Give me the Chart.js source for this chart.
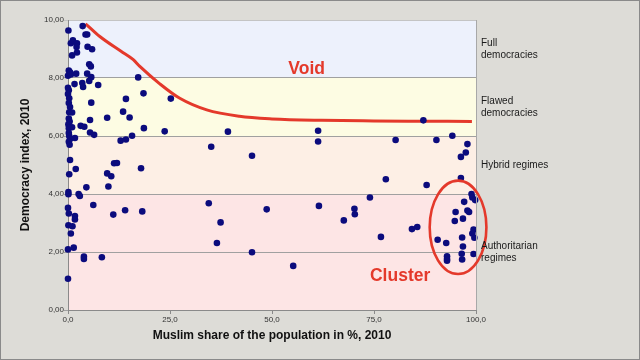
<!DOCTYPE html>
<html><head><meta charset="utf-8">
<script src="https://cdn.jsdelivr.net/npm/chart.js@4/dist/chart.umd.min.js"></script>
<style>html,body{margin:0;padding:0;background:#dddcd7;}#wrap{width:640px;height:360px;position:relative;}</style>
</head><body><div id="wrap"><canvas id="c" width="640" height="360"></canvas></div>
<script>
// ---- data ----
const muslimShare = [
  0.1,3.6,4.3,4.7,0.7,1.2,2.2,2.1,1.0,2.2,4.8,5.9,5.2,5.6,0.2,0.5,0.0,0.7,2.0,4.7,
  5.7,5.2,17.2,7.4,1.6,3.5,3.7,0.0,0.2,0.0,18.5,14.2,5.7,0.3,0.2,0.5,0.3,1.0,13.5,9.6,
  15.1,5.4,0.2,0.4,0.1,3.1,4.0,1.0,0.2,18.6,5.4,6.4,0.2,0.3,0.5,1.7,0.2,0.4,12.9,14.2,
  15.7,0.5,1.9,11.3,12.0,17.9,0.3,9.6,10.6,0.1,0.1,2.6,2.9,4.5,9.9,6.2,11.1,14.0,18.2,0.0,
  0.2,1.7,1.7,0.1,1.1,0.7,0.0,1.4,3.9,3.9,8.3,0.0,
  25.2,23.7,39.2,35.1,45.1,61.3,61.3,80.3,77.9,74.0,34.5,48.7,61.5,70.2,70.3,67.6,37.4,36.5,45.1,55.2,
  76.7,84.3,85.6,
  87.1,90.3,94.2,97.9,97.5,96.3,96.3,87.9,98.9,99.1,99.8,97.1,95.0,97.9,98.3,94.8,96.8,99.4,99.1,99.6,
  90.6,92.7,96.6,96.8,99.4,96.5,92.9,92.9,92.9,96.6
];
const democracyIndex = [
  9.64,9.79,9.50,9.50,9.20,9.30,9.20,9.07,8.78,8.88,9.08,8.99,8.47,8.40,8.26,8.20,8.08,8.12,8.15,8.15,
  8.03,7.90,8.02,7.76,7.79,7.83,7.69,7.66,7.58,7.45,7.47,7.28,7.15,7.30,7.14,7.00,6.82,6.81,6.84,6.63,
  6.64,6.55,6.60,6.50,6.40,6.35,6.32,6.30,6.27,6.27,6.12,6.04,6.10,6.00,5.90,5.93,5.80,5.70,5.84,5.88,
  6.01,5.17,4.86,5.06,5.07,4.89,4.68,4.71,4.61,4.07,3.99,4.00,3.93,4.23,4.26,3.62,3.29,3.44,3.40,3.52,
  3.33,3.24,3.12,2.92,2.89,2.64,2.09,2.15,1.84,1.76,1.82,1.08,
  7.29,6.16,6.15,5.63,5.32,6.18,5.81,5.86,4.51,3.88,3.68,3.47,3.59,3.49,3.30,3.09,3.02,2.31,1.99,1.52,
  2.52,2.79,2.86,
  6.54,5.86,6.01,5.72,5.43,5.28,4.55,4.31,4.00,3.88,3.79,3.73,3.38,3.43,3.38,3.07,3.15,2.77,2.64,2.49,
  2.42,2.31,2.50,2.19,1.93,1.94,1.85,1.76,1.70,1.74
];
const voidCurveX = [4.3, 7.8, 13.0, 16.0, 17.6, 22.5, 27.4, 34.0, 42.0, 50.0, 62.0, 75.0, 87.0, 99.0];
const voidCurveY = [9.87, 9.43, 8.92, 8.63, 8.40, 7.80, 7.30, 6.90, 6.68, 6.59, 6.54, 6.52, 6.51, 6.50];
const regimeBandEdges = [0, 4, 6, 8, 10];
const regimeLabels = [["Authoritarian","regimes"],["Hybrid regimes"],["Flawed","democracies"],["Full","democracies"]];
const regimeColors = ["#fde5e5", "#fdefe5", "#fdfce3", "#edf1fc"];
const yTicks = [0, 2, 4, 6, 8, 10];
const xTicks = [0, 25, 50, 75, 100];

// annotations (data coordinates)
const voidLabel = {text: "Void", x: 58.5, y: 8.31};
const clusterLabel = {text: "Cluster", x: 81.4, y: 1.15};
const clusterEllipse = {x: 95.6, y: 2.85, rx: 6.95, ry: 1.61};

const RED = "#e4392b";
const NAVY = "#0b0b7d";

const points = muslimShare.map((x, i) => ({x: x, y: democracyIndex[i]}));
const curve = voidCurveX.map((x, i) => ({x: x, y: voidCurveY[i]}));

const decorPlugin = {
  id: 'decor',
  beforeDraw(chart) {
    const {ctx, chartArea: a, scales: {x, y}} = chart;
    ctx.save();
    ctx.fillStyle = "#dddcd7";
    ctx.fillRect(0, 0, chart.width, chart.height);
    for (let i = 0; i < regimeColors.length; i++) {
      const yt = y.getPixelForValue(regimeBandEdges[i + 1]);
      const yb = y.getPixelForValue(regimeBandEdges[i]);
      ctx.fillStyle = regimeColors[i];
      ctx.fillRect(a.left, yt, a.right - a.left, yb - yt);
    }
    ctx.restore();
  },
  afterDatasetsDraw(chart) {
    const {ctx, chartArea: a, scales: {x, y}} = chart;
    ctx.save();
    // right border of plot
    ctx.strokeStyle = "#a8a8a8";
    ctx.lineWidth = 1;
    ctx.beginPath();
    ctx.moveTo(Math.round(a.right) + 0.5, a.top);
    ctx.lineTo(Math.round(a.right) + 0.5, a.bottom);
    ctx.stroke();
    // ellipse
    const cx = x.getPixelForValue(clusterEllipse.x);
    const cy = y.getPixelForValue(clusterEllipse.y);
    const rx = Math.abs(x.getPixelForValue(clusterEllipse.x + clusterEllipse.rx) - cx);
    const ry = Math.abs(y.getPixelForValue(clusterEllipse.y + clusterEllipse.ry) - cy);
    ctx.strokeStyle = RED;
    ctx.lineWidth = 2.6;
    ctx.beginPath();
    ctx.ellipse(cx, cy, rx, ry, 0, 0, Math.PI * 2);
    ctx.stroke();
    // texts
    ctx.fillStyle = RED;
    ctx.font = "bold 17.5px 'Liberation Sans', Arial, sans-serif";
    ctx.textAlign = "center";
    ctx.textBaseline = "middle";
    [voidLabel, clusterLabel].forEach(l => {
      ctx.fillText(l.text, x.getPixelForValue(l.x), y.getPixelForValue(l.y));
    });
    // regime labels
    ctx.fillStyle = "#1a1a1a";
    ctx.font = "10px 'Liberation Sans', Arial, sans-serif";
    ctx.textAlign = "left";
    for (let i = 0; i < regimeLabels.length; i++) {
      const mid = (regimeBandEdges[i] + regimeBandEdges[i + 1]) / 2;
      const py = y.getPixelForValue(mid);
      const lines = regimeLabels[i];
      const lh = 12;
      lines.forEach((t, k) => {
        ctx.fillText(t, a.right + 5, py + (k - (lines.length - 1) / 2) * lh);
      });
    }
    // outer border
    ctx.strokeStyle = "#8a8a8a";
    ctx.lineWidth = 1;
    ctx.strokeRect(0.5, 0.5, chart.width - 1, chart.height - 1);
    ctx.restore();
  }
};

new Chart(document.getElementById('c'), {
  type: 'scatter',
  data: {
    datasets: [
      {
        type: 'line',
        data: curve,
        borderColor: RED,
        borderWidth: 3,
        pointRadius: 0,
        cubicInterpolationMode: 'monotone',
        fill: false,
        clip: false,
        order: 2
      },
      {
        data: points,
        backgroundColor: NAVY,
        borderColor: NAVY,
        borderWidth: 0,
        pointRadius: 3.3,
        clip: false,
        order: 1
      }
    ]
  },
  options: {
    responsive: false,
    animation: false,
    devicePixelRatio: 1,
    layout: {padding: {left: 0, right: 164, top: 20, bottom: 0}},
    plugins: {legend: {display: false}, tooltip: {enabled: false}},
    scales: {
      x: {
        type: 'linear', min: 0, max: 100,
        afterBuildTicks: s => { s.ticks = xTicks.map(v => ({value: v})); },
        afterFit: s => { s.height = 50; },
        border: {color: '#8a8a8a', width: 1},
        grid: {drawOnChartArea: false, drawTicks: true, tickLength: 4, color: '#8a8a8a'},
        ticks: {
          padding: 1, color: '#333', maxRotation: 0,
          font: {family: "'Liberation Sans', Arial, sans-serif", size: 8},
          callback: v => v.toFixed(1).replace('.', ',')
        },
        title: {
          display: true, text: 'Muslim share of the population in %, 2010', color: '#111',
          font: {family: "'Liberation Sans', Arial, sans-serif", size: 12, weight: 'bold'},
          padding: {top: 0, bottom: 17}
        }
      },
      y: {
        type: 'linear', min: 0, max: 10,
        afterBuildTicks: s => { s.ticks = yTicks.map(v => ({value: v})); },
        afterFit: s => { s.width = 68; },
        border: {color: '#8a8a8a', width: 1},
        grid: {
          drawOnChartArea: true, drawTicks: true, tickLength: 4,
          color: c => (c.tick && c.tick.value === 10) ? '#c4c4c4' : '#a0a0a0'
        },
        ticks: {
          padding: 0, color: '#333',
          font: {family: "'Liberation Sans', Arial, sans-serif", size: 8},
          callback: v => v.toFixed(2).replace('.', ',')
        },
        title: {
          display: true, text: 'Democracy index, 2010', color: '#111',
          font: {family: "'Liberation Sans', Arial, sans-serif", size: 12, weight: 'bold'},
          padding: {top: 18, bottom: 0}
        }
      }
    }
  },
  plugins: [decorPlugin]
});
</script>
</body></html>
